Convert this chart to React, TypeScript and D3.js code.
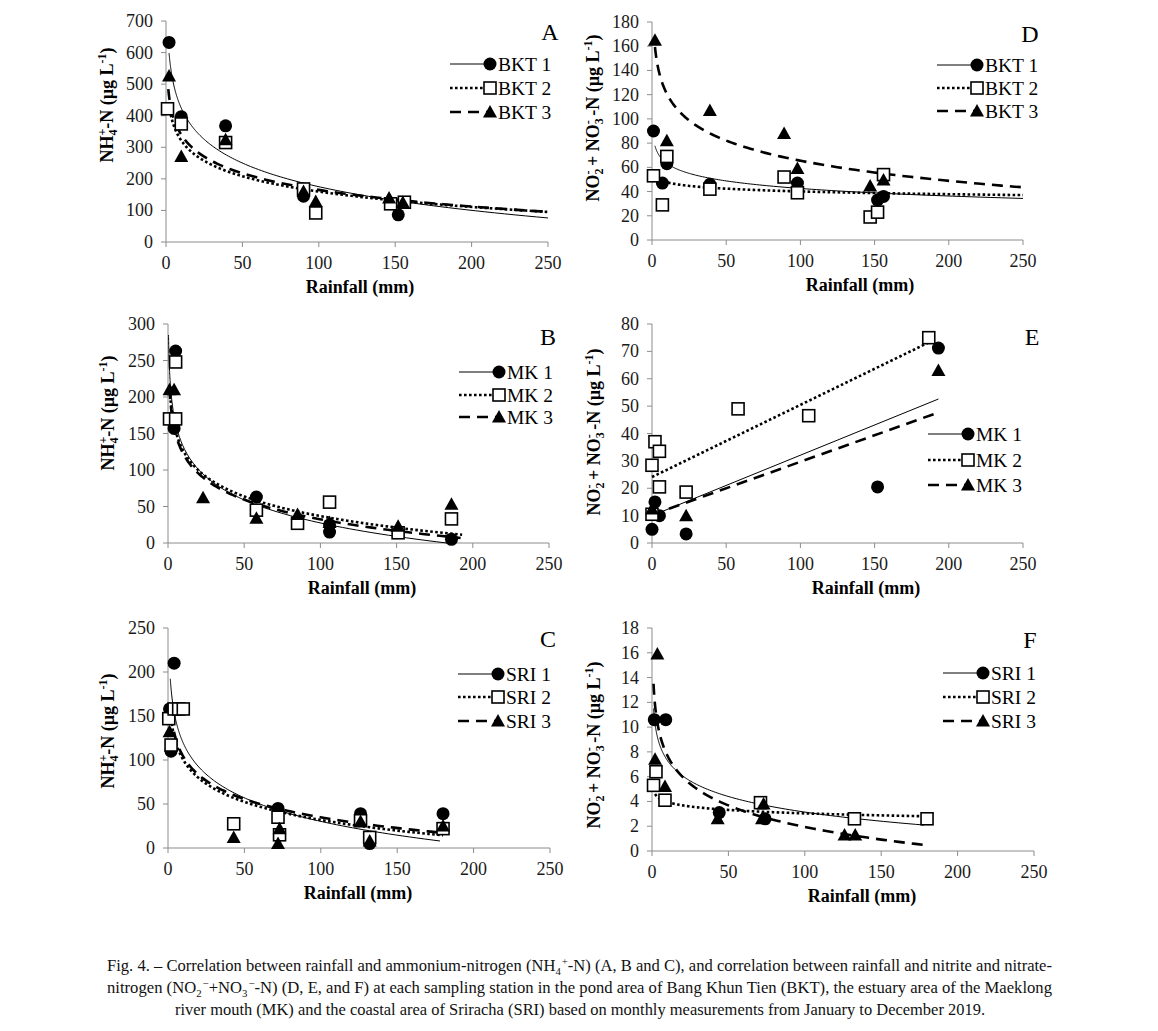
import React from "react";
import * as d3 from "d3";

type Pt = [number, number];
type Fit = { kind: "log" | "lin"; a: number; b: number; from: number; to: number };

// x axis (rainfall, mm) is shared by all six panels
const xTicks = [0, 50, 100, 150, 200, 250];

// ---- A : NH4 at BKT ----
const yTicksA = [0, 100, 200, 300, 400, 500, 600, 700];
const bkt1NH4: Pt[] = [[2, 632], [10, 397], [39, 368], [90, 145], [152, 86]];
const bkt2NH4: Pt[] = [[1, 422], [10, 374], [39, 315], [90, 168], [98, 92], [147, 121], [156, 126]];
const bkt3NH4: Pt[] = [[2, 526], [10, 271], [39, 324], [90, 160], [98, 128], [146, 139], [155, 125]];
const fitA: Fit[] = [
  { kind: "log", a: 673, b: 108.1, from: 2, to: 250 },
  { kind: "log", a: 483, b: 70.2, from: 2, to: 250 },
  { kind: "log", a: 515, b: 76, from: 1.5, to: 250 },
];

// ---- D : NO2+NO3 at BKT ----
const yTicksD = [0, 20, 40, 60, 80, 100, 120, 140, 160, 180];
const bkt1NO: Pt[] = [[1, 90], [7, 47], [10, 63], [39, 46], [98, 47], [152, 33], [156, 36]];
const bkt2NO: Pt[] = [[1, 53], [7, 29], [10, 69], [39, 42], [89, 52], [98, 39], [147, 19], [152, 23], [156, 54]];
const bkt3NO: Pt[] = [[2, 165], [10, 82], [39, 107], [89, 88], [98, 59], [147, 44.5], [156, 49.5]];
const fitD: Fit[] = [
  { kind: "log", a: 84, b: 9, from: 2, to: 250 },
  { kind: "log", a: 55.3, b: 3.3, from: 2, to: 250 },
  { kind: "log", a: 176, b: 24, from: 2, to: 250 },
];

// ---- B : NH4 at MK ----
const yTicksB = [0, 50, 100, 150, 200, 250, 300];
const mk1NH4: Pt[] = [[5, 263], [4, 157], [58, 63], [106, 25], [106, 15], [186, 5]];
const mk2NH4: Pt[] = [[5, 248], [1, 170], [5, 170], [58, 45], [85, 27], [106, 56], [151, 14], [186, 33]];
const mk3NH4: Pt[] = [[1, 210], [4, 210], [23, 62], [58, 34], [85, 39], [106, 28], [151, 23], [186, 53]];
const fitB: Fit[] = [
  { kind: "log", a: 237, b: 45.5, from: 0.35, to: 183 },
  { kind: "log", a: 216, b: 38.9, from: 1, to: 193 },
  { kind: "log", a: 212, b: 39, from: 1, to: 192 },
];

// ---- E : NO2+NO3 at MK ----
const yTicksE = [0, 10, 20, 30, 40, 50, 60, 70, 80];
const mk1NO: Pt[] = [[0, 5], [2, 15], [5, 10], [23, 3.3], [152, 20.5], [193, 71.2]];
const mk2NO: Pt[] = [[0, 28.4], [2, 37], [5, 33.5], [5, 20.5], [0, 10.5], [23, 18.6], [58, 49], [105.6, 46.5], [186.5, 75]];
const mk3NO: Pt[] = [[0, 12.4], [23, 10], [193, 63]];
const fitE: Fit[] = [
  { kind: "lin", a: 10, b: 0.2207, from: 0, to: 193 },
  { kind: "lin", a: 24.1, b: 0.2636, from: 0, to: 187 },
  { kind: "lin", a: 10.3, b: 0.1937, from: 0, to: 190 },
];

// ---- C : NH4 at SRI ----
const yTicksC = [0, 50, 100, 150, 200, 250];
const sri1NH4: Pt[] = [[1, 158], [4, 210], [2, 110], [72, 45], [126, 39], [132, 5], [180, 39]];
const sri2NH4: Pt[] = [[0.5, 147], [2, 117], [4, 158], [7, 158], [10, 158], [43, 27.5], [72, 35], [73, 15], [126, 31], [132, 12], [180, 22]];
const sri3NH4: Pt[] = [[1, 132], [43, 12], [72, 5], [73, 22], [126, 30], [132, 8], [180, 25]];
const fitC: Fit[] = [
  { kind: "log", a: 208, b: 38.6, from: 1.5, to: 178 },
  { kind: "log", a: 168.6, b: 29.7, from: 2.5, to: 180 },
  { kind: "log", a: 173, b: 30, from: 2, to: 180 },
];

// ---- F : NO2+NO3 at SRI ----
const yTicksF = [0, 2, 4, 6, 8, 10, 12, 14, 16, 18];
const sri1NO: Pt[] = [[1.5, 10.6], [9, 10.6], [44, 3.1], [74, 2.6]];
const sri2NO: Pt[] = [[1, 5.3], [2.6, 6.4], [8.5, 4.1], [71, 3.9], [132.5, 2.6], [180, 2.6]];
const sri3NO: Pt[] = [[3.5, 15.9], [2, 7.4], [8.5, 5.2], [43, 2.6], [72, 2.6], [73, 3.8], [126, 1.3], [133, 1.3]];
const fitF: Fit[] = [
  { kind: "log", a: 11.5, b: 1.815, from: 1, to: 178 },
  { kind: "log", a: 4.88, b: 0.4, from: 2, to: 180 },
  { kind: "log", a: 13.5, b: 2.51, from: 1, to: 178 },
];

const FONT = '"Liberation Serif", "Times New Roman", serif';
const AXIS = "#8c8c8c";
const lineStyles = [
  { w: 1, dash: "" },
  { w: 2.6, dash: "2.6 2.4" },
  { w: 2.6, dash: "11 7" },
];
const shapes = ["circle", "square", "triangle"];

const Marker = ({ shape, x, y }: { shape: string; x: number; y: number }) => {
  if (shape === "circle") return <circle cx={x} cy={y} r={6.5} fill="#000" />;
  if (shape === "square")
    return <rect x={x - 6} y={y - 6} width={12} height={12} fill="#fff" stroke="#000" strokeWidth={1.6} />;
  return <path d={`M${x},${y - 7}L${x + 7},${y + 5.5}L${x - 7},${y + 5.5}Z`} fill="#000" />;
};

const YLabel = ({ kind, x, y }: { kind: string; x: number; y: number }) => {
  const sm = 12;
  if (kind === "nh4")
    return (
      <text transform={`translate(${x},${y}) rotate(-90)`} textAnchor="middle" fontFamily={FONT}
        fontWeight="bold" fontSize={18} dominantBaseline="middle">
        NH<tspan dy={5} fontSize={sm}>4</tspan><tspan dx={-6} dy={-11} fontSize={sm}>+</tspan>
        <tspan dy={6}>-N (µg L</tspan><tspan dy={-6} fontSize={sm}>-1</tspan><tspan dy={6}>)</tspan>
      </text>
    );
  return (
    <text transform={`translate(${x},${y}) rotate(-90)`} textAnchor="middle" fontFamily={FONT}
      fontWeight="bold" fontSize={18} dominantBaseline="middle">
      NO<tspan dy={5} fontSize={sm}>2</tspan><tspan dx={-6} dy={-11} fontSize={sm}>-</tspan>
      <tspan dy={6}> + NO</tspan><tspan dy={5} fontSize={sm}>3</tspan><tspan dx={-6} dy={-11} fontSize={sm}>-</tspan>
      <tspan dy={6}> -N (µg L</tspan><tspan dy={-6} fontSize={sm}>-1</tspan><tspan dy={6}>)</tspan>
    </text>
  );
};

interface PanelProps {
  x0: number; x1: number; yTop: number; yBottom: number;
  yTicks: number[];
  series: Pt[][];
  fits: Fit[];
  names: string[];
  letter: string; letterX: number; letterY: number;
  legendX: number; legendRows: number[];
  yKind: string; yLabelX: number; yLabelY: number;
  titleX: number;
}

const Panel: React.FC<PanelProps> = (p) => {
  const x = d3.scaleLinear().domain([0, 250]).range([p.x0, p.x1]);
  const y = d3.scaleLinear().domain([0, p.yTicks[p.yTicks.length - 1]]).range([p.yBottom, p.yTop]);

  // trend line: Excel log or linear fit, drawn across its own x span
  const fitPath = (f: Fit) => {
    const xs = f.kind === "lin" ? [f.from, f.to]
      : d3.range(0, 161).map((i) => f.from * Math.pow(f.to / f.from, i / 160));
    const fy = (v: number) => (f.kind === "log" ? f.a - f.b * Math.log(v) : f.a + f.b * v);
    return d3.line<number>().x((v) => x(v)).y((v) => y(fy(v)))(xs) || "";
  };

  return (
    <g fontFamily={FONT}>
      {/* axes */}
      <line x1={p.x0} x2={p.x1} y1={p.yBottom} y2={p.yBottom} stroke={AXIS} />
      <line x1={p.x0} x2={p.x0} y1={p.yTop} y2={p.yBottom} stroke={AXIS} />
      {xTicks.map((t) => (
        <g key={"x" + t}>
          <line x1={x(t)} x2={x(t)} y1={p.yBottom} y2={p.yBottom + 5} stroke={AXIS} />
          <text x={x(t)} y={p.yBottom + 27} textAnchor="middle" fontSize={18} fill="#1a1a1a">{t}</text>
        </g>
      ))}
      {p.yTicks.map((t) => (
        <g key={"y" + t}>
          <line x1={p.x0 - 5} x2={p.x0} y1={y(t)} y2={y(t)} stroke={AXIS} />
          <text x={p.x0 - 13} y={y(t) + 6} textAnchor="end" fontSize={18} fill="#1a1a1a">{t}</text>
        </g>
      ))}
      <text x={p.titleX} y={p.yBottom + 51} textAnchor="middle" fontSize={18} fontWeight="bold">Rainfall (mm)</text>
      <YLabel kind={p.yKind} x={p.yLabelX} y={p.yLabelY} />

      {/* trend lines */}
      {p.fits.map((f, i) => (
        <path key={"f" + i} d={fitPath(f)} fill="none" stroke="#000" strokeWidth={lineStyles[i].w}
          strokeDasharray={lineStyles[i].dash || undefined} />
      ))}
      {/* points */}
      {p.series.map((s, i) => (
        <g key={"s" + i}>
          {s.map((d, j) => <Marker key={j} shape={shapes[i]} x={x(d[0])} y={y(d[1])} />)}
        </g>
      ))}

      {/* legend */}
      {p.names.map((n, i) => (
        <g key={"l" + i}>
          <line x1={p.legendX} x2={p.legendX + 40} y1={p.legendRows[i]} y2={p.legendRows[i]} stroke="#000"
            strokeWidth={lineStyles[i].w} strokeDasharray={lineStyles[i].dash || undefined} />
          <Marker shape={shapes[i]} x={p.legendX + 40} y={p.legendRows[i]} />
          <text x={p.legendX + 48} y={p.legendRows[i] + 6.5} fontSize={19.5}>{n}</text>
        </g>
      ))}
      <text x={p.letterX} y={p.letterY} textAnchor="middle" fontSize={24}>{p.letter}</text>
    </g>
  );
};

const Caption = () => (
  <g fontFamily={FONT} fontSize={17} fill="#111">
    <text x={107} y={971} textLength={945} lengthAdjust="spacingAndGlyphs">
      Fig. 4. – Correlation between rainfall and ammonium-nitrogen (NH<tspan dy={4} fontSize={11}>4</tspan>
      <tspan dx={1} dy={-10} fontSize={11}>+</tspan><tspan dy={6}>-N) (A, B and C), and correlation between rainfall and nitrite and nitrate-</tspan>
    </text>
    <text x={107} y={993} textLength={945} lengthAdjust="spacingAndGlyphs">
      nitrogen (NO<tspan dy={4} fontSize={11}>2</tspan><tspan dx={1} dy={-10} fontSize={11}>−</tspan>
      <tspan dy={6}>+NO</tspan><tspan dy={4} fontSize={11}>3</tspan><tspan dx={1} dy={-10} fontSize={11}>−</tspan>
      <tspan dy={6}>-N) (D, E, and F) at each sampling station in the pond area of Bang Khun Tien (BKT), the estuary area of the Maeklong</tspan>
    </text>
    <text x={175} y={1015} textLength={810} lengthAdjust="spacingAndGlyphs">
      river mouth (MK) and the coastal area of Sriracha (SRI) based on monthly measurements from January to December 2019.
    </text>
  </g>
);

export default function App() {
  return (
    <svg width={1158} height={1031} style={{ position: "absolute", left: 0, top: 0, background: "#fff" }}>
      <Panel x0={166} x1={548} yTop={21} yBottom={242} yTicks={yTicksA}
        series={[bkt1NH4, bkt2NH4, bkt3NH4]} fits={fitA} names={["BKT 1", "BKT 2", "BKT 3"]}
        letter="A" letterX={550} letterY={40} legendX={450} legendRows={[64, 88, 112]}
        yKind="nh4" yLabelX={109} yLabelY={105} titleX={360} />
      <Panel x0={652} x1={1023} yTop={22} yBottom={240} yTicks={yTicksD}
        series={[bkt1NO, bkt2NO, bkt3NO]} fits={fitD} names={["BKT 1", "BKT 2", "BKT 3"]}
        letter="D" letterX={1030} letterY={42} legendX={937} legendRows={[65, 88, 111]}
        yKind="no" yLabelX={595} yLabelY={118} titleX={860} />
      <Panel x0={168} x1={549} yTop={324} yBottom={543} yTicks={yTicksB}
        series={[mk1NH4, mk2NH4, mk3NH4]} fits={fitB} names={["MK 1", "MK 2", "MK 3"]}
        letter="B" letterX={548} letterY={345} legendX={459} legendRows={[372, 395, 417]}
        yKind="nh4" yLabelX={110} yLabelY={413} titleX={362} />
      <Panel x0={652} x1={1023} yTop={324} yBottom={543} yTicks={yTicksE}
        series={[mk1NO, mk2NO, mk3NO]} fits={fitE} names={["MK 1", "MK 2", "MK 3"]}
        letter="E" letterX={1032} letterY={345} legendX={928} legendRows={[434, 460, 485]}
        yKind="no" yLabelX={596} yLabelY={432} titleX={866} />
      <Panel x0={168} x1={550} yTop={628} yBottom={848} yTicks={yTicksC}
        series={[sri1NH4, sri2NH4, sri3NH4]} fits={fitC} names={["SRI 1", "SRI 2", "SRI 3"]}
        letter="C" letterX={548} letterY={647} legendX={458} legendRows={[674, 697, 721]}
        yKind="nh4" yLabelX={110} yLabelY={731} titleX={358} />
      <Panel x0={652} x1={1034} yTop={628} yBottom={851} yTicks={yTicksF}
        series={[sri1NO, sri2NO, sri3NO]} fits={fitF} names={["SRI 1", "SRI 2", "SRI 3"]}
        letter="F" letterX={1030} letterY={648} legendX={943} legendRows={[673, 697, 721]}
        yKind="no" yLabelX={596} yLabelY={745} titleX={862} />
      <Caption />
    </svg>
  );
}
